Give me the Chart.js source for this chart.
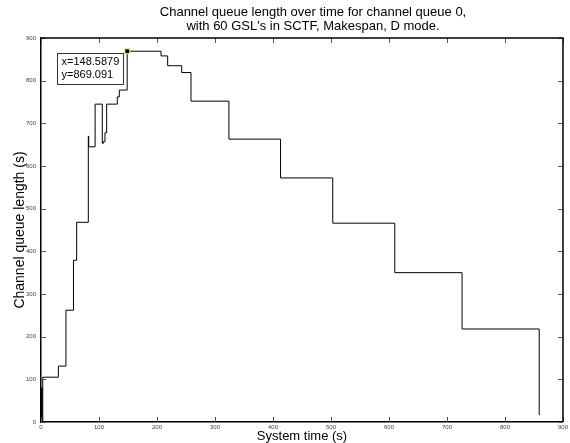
<!DOCTYPE html>
<html>
<head>
<meta charset="utf-8">
<script src="https://cdn.jsdelivr.net/npm/chart.js@4/dist/chart.umd.min.js"></script>
<style>
  html, body { margin: 0; padding: 0; background: #fff; }
</style>
</head>
<body>
<canvas id="queueChart" width="570" height="443"></canvas>
<script>
// step points (time in s, queue length in s)
const timeS = [0, 1, 2, 3, 30, 43, 56, 61.5, 81.6, 82.3, 93.3, 105.7, 107.4, 110.3, 113.2, 131.6, 135, 148.5879, 207, 218.4, 242.6, 258.6, 324, 413, 503, 610, 726, 859];
const queueLen = [0, 80, 0, 105, 131, 262, 379, 468, 670, 645, 745, 653, 657, 678, 745, 762, 778, 869.091, 858, 835, 819, 752, 663, 572, 466, 350, 218, 16];
const xTicks = [0, 100, 200, 300, 400, 500, 600, 700, 800, 900];
const yTicks = [0, 100, 200, 300, 400, 500, 600, 700, 800, 900];
const titleLines = ['Channel queue length over time for channel queue 0,', "with 60 GSL's in SCTF, Makespan, D mode."];
const tipX = 148.5879;
const tipY = 869.091;

const FONT = 'Liberation Sans, Arial, sans-serif';

// matlab-ish extras: box, inward ticks, title, data tip
const matlabBits = {
  id: 'matlabBits',
  afterDraw(chart) {
    const ctx = chart.ctx;
    const a = chart.chartArea;
    const xs = chart.scales.x;
    const ys = chart.scales.y;
    ctx.save();

    ctx.strokeStyle = '#555';
    ctx.lineWidth = 1;
    ctx.beginPath();
    xTicks.forEach(v => {
      const px = Math.round(xs.getPixelForValue(v)) + 0.5;
      ctx.moveTo(px, a.bottom); ctx.lineTo(px, a.bottom - 5);
      ctx.moveTo(px, a.top); ctx.lineTo(px, a.top + 5);
    });
    yTicks.forEach(v => {
      const py = Math.round(ys.getPixelForValue(v)) + 0.5;
      ctx.moveTo(a.left, py); ctx.lineTo(a.left + 5, py);
      ctx.moveTo(a.right, py); ctx.lineTo(a.right - 5, py);
    });
    ctx.stroke();

    ctx.strokeStyle = '#000';
    ctx.lineWidth = 1.5;
    ctx.beginPath();
    ctx.moveTo(a.left, a.top);
    ctx.lineTo(a.right, a.top);
    ctx.lineTo(a.right, a.bottom);
    ctx.stroke();

    ctx.fillStyle = '#000';
    ctx.font = '13px ' + FONT;
    ctx.textAlign = 'center';
    ctx.textBaseline = 'middle';
    const cx = (a.left + a.right) / 2 + 11;
    ctx.fillText(titleLines[0], cx, 12.5);
    ctx.fillText(titleLines[1], cx, 26.5);

    // data tip
    const px = xs.getPixelForValue(tipX);
    const py = ys.getPixelForValue(tipY);
    const bx = Math.round(px - 70) + 0.5;
    const by = Math.round(py + 2) + 0.5;
    ctx.fillStyle = '#fff';
    ctx.fillRect(bx, by, 66, 31);
    ctx.strokeStyle = '#333';
    ctx.lineWidth = 1;
    ctx.strokeRect(bx, by, 66, 31);
    ctx.fillStyle = '#000';
    ctx.font = '11px ' + FONT;
    ctx.textAlign = 'left';
    ctx.fillText('x=' + tipX, bx + 4, by + 8.5);
    ctx.fillText('y=' + tipY, bx + 4, by + 21.5);

    ctx.fillStyle = '#000';
    ctx.fillRect(px - 2, py - 2, 4, 4);
    ctx.strokeStyle = '#e8e070';
    ctx.strokeRect(px - 2.5, py - 2.5, 5, 5);
    ctx.restore();
  }
};

const ctx = document.getElementById('queueChart').getContext('2d');
new Chart(ctx, {
  type: 'line',
  data: {
    datasets: [{
      data: timeS.map((t, i) => ({ x: t, y: queueLen[i] })),
      borderColor: '#000',
      borderWidth: 1,
      pointRadius: 0,
      stepped: true,
      fill: false
    }]
  },
  options: {
    responsive: false,
    animation: false,
    layout: { padding: { left: 0, right: 7, top: 38, bottom: 0 } },
    plugins: {
      legend: { display: false },
      tooltip: { enabled: false }
    },
    scales: {
      x: {
        type: 'linear',
        min: 0,
        max: 900,
        afterBuildTicks: s => { s.ticks = xTicks.map(v => ({ value: v })); },
        afterFit: s => { s.height = 21; },
        ticks: { font: { size: 6, family: FONT }, color: '#444', padding: 2, maxRotation: 0, autoSkip: false },
        grid: { drawOnChartArea: false, drawTicks: false },
        border: { color: '#000', width: 1.5 },
        title: { display: true, text: 'System time (s)', color: '#000', font: { size: 13, family: FONT }, padding: { top: 0, bottom: -1.5 } }
      },
      y: {
        type: 'linear',
        min: 0,
        max: 900,
        afterBuildTicks: s => { s.ticks = yTicks.map(v => ({ value: v })); },
        afterFit: s => { s.width = 41; },
        ticks: { font: { size: 6, family: FONT }, color: '#444', padding: 5, autoSkip: false },
        grid: { drawOnChartArea: false, drawTicks: false },
        border: { color: '#000', width: 1.5 },
        title: { display: true, text: 'Channel queue length (s)', color: '#000', font: { size: 14, family: FONT }, padding: { top: 12, bottom: 0 } }
      }
    }
  },
  plugins: [matlabBits]
});
</script>
</body>
</html>
